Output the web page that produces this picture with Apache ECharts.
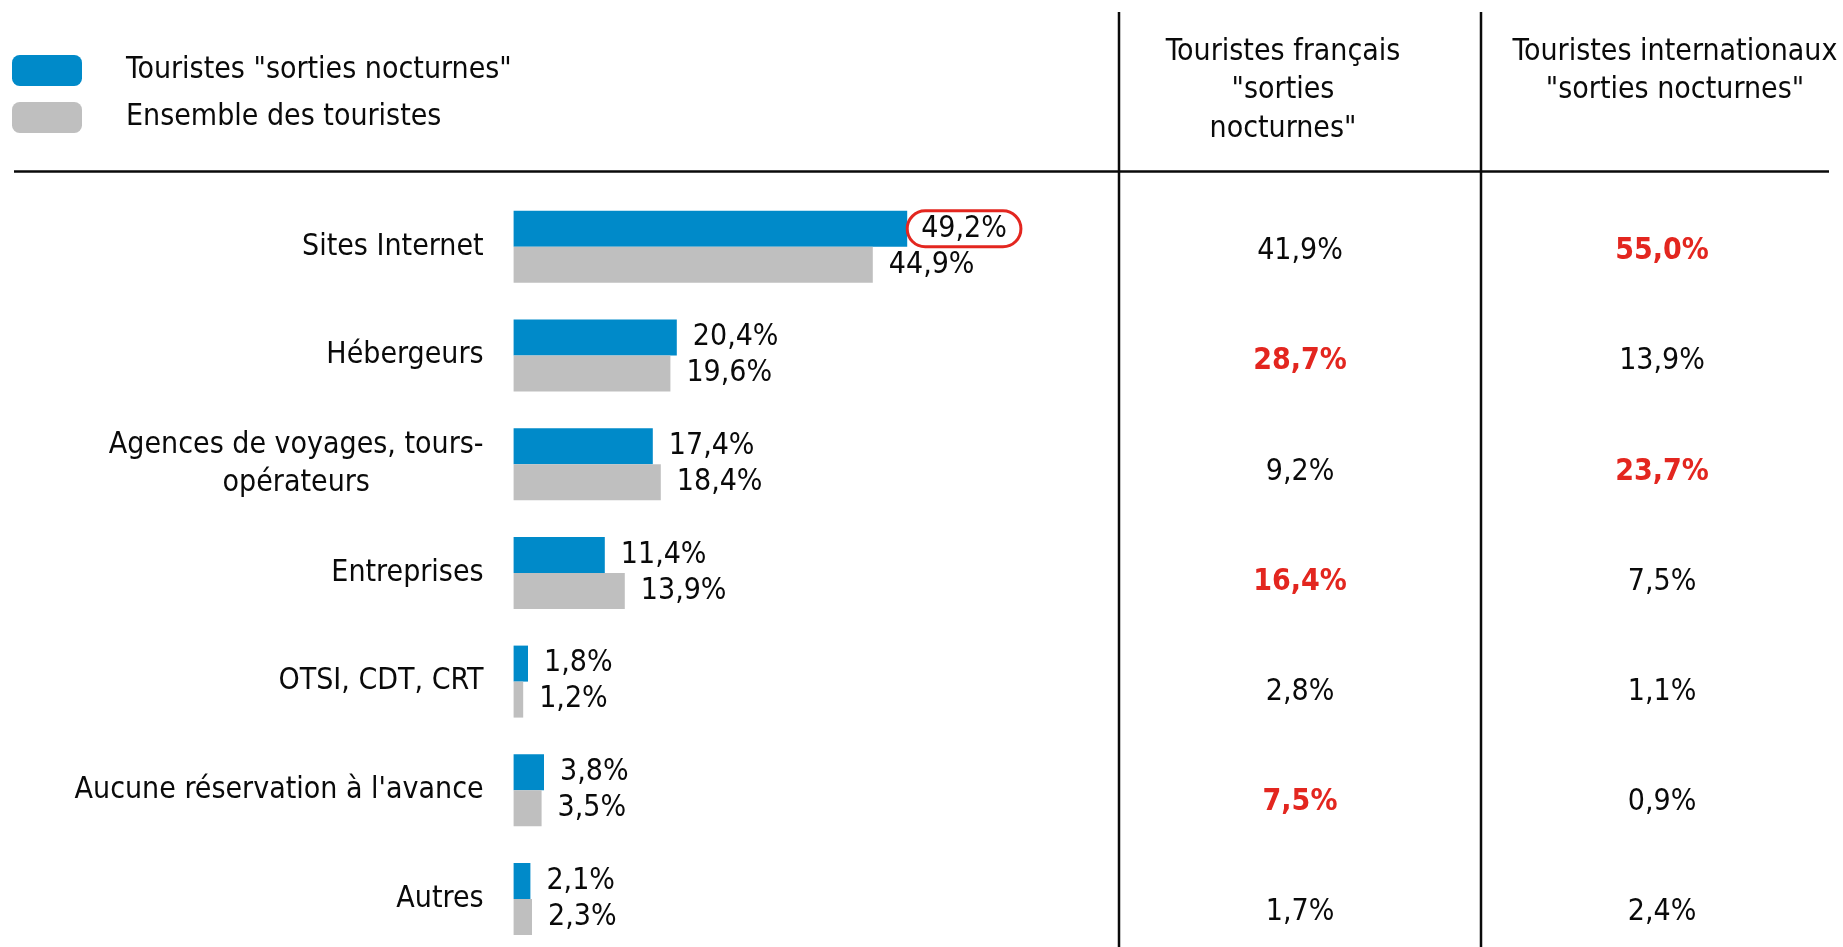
<!DOCTYPE html>
<html>
<head>
<meta charset="utf-8">
<script src="https://cdn.jsdelivr.net/npm/echarts@6/dist/echarts.min.js"></script>
<style>
  html, body { margin: 0; padding: 0; background: #fff; }
  #chart { width: 1843px; height: 947px; }
</style>
</head>
<body>
<div id="chart"></div>
<script>
  // catégories (axe Y)
  var categories = ['Sites Internet', 'Hébergeurs', 'Agences de voyages, tours-\nopérateurs', 'Entreprises',
    'OTSI, CDT, CRT', "Aucune réservation à l'avance", 'Autres'];
  // barres
  var nightTourists = [49.2, 20.4, 17.4, 11.4, 1.8, 3.8, 2.1];
  var allTourists = [44.9, 19.6, 18.4, 13.9, 1.2, 3.5, 2.3];
  // colonnes du tableau
  var frenchNight = [41.9, 28.7, 9.2, 16.4, 2.8, 7.5, 1.7];
  var intlNight = [55.0, 13.9, 23.7, 7.5, 1.1, 0.9, 2.4];
  // valeurs en rouge
  var frenchRed = [false, true, false, true, false, true, false];
  var intlRed = [true, false, true, false, false, false, false];
  var circledIndex = 0;

  var FONT = "'Liberation Sans Narrow', 'DejaVu Sans Condensed', sans-serif";
  var FS = 30;
  var RED = '#e3261f';
  var BLUE = '#008ac9';
  var GREY = '#bfbfbf';
  var INK = '#0a0a0a';

  function pct(v) {
    return v.toFixed(1).replace('.', ',') + '%';
  }

  function tableSeries(values, red, idx) {
    return {
      type: 'scatter',
      xAxisIndex: idx,
      yAxisIndex: idx,
      symbolSize: 1,
      clip: false,
      itemStyle: {color: 'transparent', opacity: 1},
      silent: true,
      data: values.map(function (v, i) {
        return {
          value: [0.5, i],
          label: {
            show: true,
            position: 'inside',
            formatter: pct(v),
            fontFamily: FONT,
            fontSize: FS,
            fontWeight: red[i] ? 'bold' : 'normal',
            color: red[i] ? RED : INK
          }
        };
      })
    };
  }

  function hiddenCat() {
    return {
      type: 'category', inverse: true, boundaryGap: false, data: categories,
      axisLine: {show: false}, axisTick: {show: false}, axisLabel: {show: false}, splitLine: {show: false}
    };
  }

  function hiddenVal(max) {
    return {type: 'value', min: 0, max: max, show: false, splitLine: {show: false}};
  }

  var myChart = echarts.init(document.getElementById('chart'));
  myChart.setOption({
    animation: false,
    textStyle: {fontFamily: FONT, color: INK},
    legend: {
      orient: 'vertical',
      left: 12,
      top: 55,
      padding: 0,
      icon: 'roundRect',
      itemWidth: 70,
      itemHeight: 31,
      itemGap: 16,
      selectedMode: false,
      textStyle: {fontFamily: FONT, fontSize: FS, color: INK, padding: [0, 0, 0, 39]},
      data: ['Touristes "sorties nocturnes"', 'Ensemble des touristes']
    },
    grid: [
      {left: 513.6, top: 246.8, width: 800, height: 652.2},
      {left: 1119, top: 251.5, width: 362, height: 661},
      {left: 1481, top: 251.5, width: 362, height: 661}
    ],
    xAxis: [
      {type: 'value', min: 0, max: 100, show: false, splitLine: {show: false}, gridIndex: 0},
      Object.assign(hiddenVal(1), {gridIndex: 1}),
      Object.assign(hiddenVal(1), {gridIndex: 2})
    ],
    yAxis: [
      {
        type: 'category',
        gridIndex: 0,
        inverse: true,
        boundaryGap: false,
        data: categories,
        axisLine: {show: false},
        axisTick: {show: false},
        axisLabel: {
          margin: 30,
          fontFamily: FONT,
          fontSize: FS,
          color: INK,
          lineHeight: 38,
          formatter: function (v) {
            if (v.indexOf('\n') < 0) return v;
            return v.split('\n').map(function (s) { return '{c|' + s + '}'; }).join('\n');
          },
          rich: {
            c: {align: 'center', fontFamily: FONT, fontSize: FS, color: INK, lineHeight: 38}
          }
        }
      },
      Object.assign(hiddenCat(), {gridIndex: 1}),
      Object.assign(hiddenCat(), {gridIndex: 2})
    ],
    series: [
      {
        name: 'Touristes "sorties nocturnes"',
        type: 'bar',
        barWidth: 36,
        barGap: '0%',
        clip: false,
        itemStyle: {color: BLUE},
        label: {
          show: true, position: 'right', distance: 16,
          fontFamily: FONT, fontSize: FS, color: INK,
          formatter: function (p) { return pct(p.value); }
        },
        data: nightTourists.map(function (v, i) {
          if (i !== circledIndex) return v;
          return {
            value: v,
            label: {distance: 0, borderColor: RED, borderWidth: 3, borderRadius: 22, padding: [3, 14]}
          };
        })
      },
      {
        name: 'Ensemble des touristes',
        type: 'bar',
        barWidth: 36,
        barGap: '0%',
        clip: false,
        itemStyle: {color: GREY},
        label: {
          show: true, position: 'right', distance: 16,
          fontFamily: FONT, fontSize: FS, color: INK,
          formatter: function (p) { return pct(p.value); }
        },
        data: allTourists
      },
      tableSeries(frenchNight, frenchRed, 1),
      tableSeries(intlNight, intlRed, 2)
    ],
    graphic: [
      {type: 'line', shape: {x1: 14, y1: 171.5, x2: 1829, y2: 171.5}, style: {stroke: INK, lineWidth: 2.5}},
      {type: 'line', shape: {x1: 1119, y1: 12, x2: 1119, y2: 947}, style: {stroke: INK, lineWidth: 2.5}},
      {type: 'line', shape: {x1: 1481, y1: 12, x2: 1481, y2: 947}, style: {stroke: INK, lineWidth: 2.5}},
      {
        type: 'text', x: 1283, y: 90.5,
        style: {
          text: 'Touristes français\n"sorties\nnocturnes"', align: 'center', verticalAlign: 'middle',
          font: FS + 'px ' + FONT, lineHeight: 38.5, fill: INK
        }
      },
      {
        type: 'text', x: 1675, y: 71,
        style: {
          text: 'Touristes internationaux\n"sorties nocturnes"', align: 'center', verticalAlign: 'middle',
          font: FS + 'px ' + FONT, lineHeight: 38.5, fill: INK
        }
      }
    ]
  });
</script>
</body>
</html>
